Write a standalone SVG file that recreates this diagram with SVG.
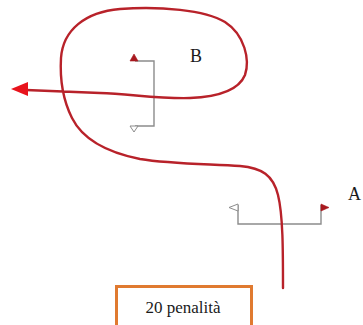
<svg xmlns="http://www.w3.org/2000/svg" width="363" height="325" viewBox="0 0 363 325">
<style>
.gate{fill:none;stroke:#8c8c8c;stroke-width:1.4}
.fr{fill:#a8191f;stroke:#a8191f;stroke-width:0.6}
.fw{fill:#fff;stroke:#8c8c8c;stroke-width:1}
.lbl{font-family:"Liberation Serif","DejaVu Serif",serif;fill:#1a1a1a}
.route{fill:none;stroke:#b8222a;stroke-width:2.4;stroke-linecap:round;stroke-linejoin:round}
</style>
<rect width="363" height="325" fill="#fff"/>
<g id="gate-B">
<polyline class="gate" points="135,61 154,61 154,126 135,126"/>
<polygon class="fr" points="130,61 134,54 138,61"/>
<polygon class="fw" points="130,126 138,126 134,132"/>
</g>
<g id="gate-A">
<polyline class="gate" points="238,205 238,224 321,224 321,205"/>
<polygon class="fw" points="238,204 229,207.5 238,211"/>
<polygon class="fr" points="321,204 329,207.5 321,211"/>
</g>
<g id="label-B"><text class="lbl" x="190" y="62" font-size="18">B</text></g>
<g id="label-A"><text class="lbl" x="348" y="200" font-size="18">A</text></g>
<g id="penalty">
<rect x="116.5" y="286.5" width="135" height="40" fill="#fff" stroke="#e07a30" stroke-width="3"/>
<text class="lbl" x="183" y="313" font-size="17" text-anchor="middle">20 penalità</text>
</g>
<g id="connectors">
<path class="route" d="M283,288 C283,250 283,215 278,195 C273,175 262,168 240,166 C210,164 170,164 140,159 C105,152 82,138 72,118 C62,98 60,75 61,58 C63,30 85,12 120,9 C160,6 205,10 225,22 C245,35 250,60 245,75 C238,92 215,97 190,98 C160,99 130,94 100,93 C70,92 45,91 26,90"/>
<polygon points="11,89 28,82 28,96" fill="#e8131c"/>
</g>
</svg>
